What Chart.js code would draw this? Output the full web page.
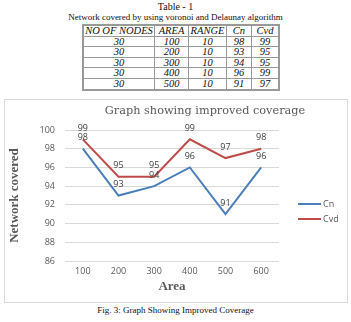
<!DOCTYPE html>
<html>
<head>
<meta charset="utf-8">
<script src="https://cdn.jsdelivr.net/npm/chart.js@4"></script>
<style>
  body { margin: 0; width: 351px; height: 322px; background: #fff; position: relative; font-family: "Liberation Serif", serif; color: #111; overflow: hidden; }
  .cap { position: absolute; left: 0; width: 351px; text-align: center; font-size: 10px; line-height: 11px; }
  table { position: absolute; left: 82px; top: 24px; border-collapse: collapse; border: 2px solid #999; font-style: italic; font-size: 10.5px; }
  td { border: 1px solid #999; text-align: center; height: 9.6px; line-height: 9.6px; padding: 0; }
  #box { position: absolute; left: 4px; top: 99px; width: 342px; height: 202px; border: 1px solid #d9d9d9; }
</style>
</head>
<body>
<div class="cap" style="top:1px">Table - 1</div>
<div class="cap" style="top:12px;font-size:9px">Network covered by using voronoi and Delaunay algorithm</div>
<table id="tbl"></table>
<div id="box"><canvas id="chart" width="342" height="202"></canvas></div>
<div class="cap" style="top:305px;font-size:9px">Fig. 3: Graph Showing Improved Coverage</div>
<script>
const areas = ["100", "200", "300", "400", "500", "600"];
const cn = [98, 93, 94, 96, 91, 96];
const cvd = [99, 95, 95, 99, 97, 98];
const tableHead = ["NO OF NODES", "AREA", "RANGE", "Cn", "Cvd"];
const tableNodes = [30, 30, 30, 30, 30];
const tableArea = [100, 200, 300, 400, 500];
const tableRange = [10, 10, 10, 10, 10];
const tableCn = [98, 93, 94, 96, 91];
const tableCvd = [99, 95, 95, 99, 97];

const colWidths = [70, 33, 37, 24, 26];
const tbl = document.getElementById("tbl");
let html = "<tr>" + tableHead.map((h, i) => '<td style="width:' + colWidths[i] + 'px">' + h + "</td>").join("") + "</tr>";
for (let i = 0; i < tableNodes.length; i++) {
  html += "<tr><td>" + tableNodes[i] + "</td><td>" + tableArea[i] + "</td><td>" + tableRange[i] + "</td><td>" + tableCn[i] + "</td><td>" + tableCvd[i] + "</td></tr>";
}
tbl.innerHTML = html;

const gray = "#595959";
const labelFont = "9px 'Open Sans', sans-serif";

// value labels above each point
const valueLabels = {
  id: "valueLabels",
  afterDatasetsDraw(chart) {
    const ctx = chart.ctx;
    ctx.save();
    ctx.font = labelFont;
    ctx.fillStyle = "#404040";
    ctx.textAlign = "center";
    ctx.textBaseline = "middle";
    chart.data.datasets.forEach((ds, i) => {
      chart.getDatasetMeta(i).data.forEach((pt, j) => {
        ctx.fillText(ds.data[j], pt.x, pt.y - 11);
      });
    });
    ctx.restore();
  }
};

// title sits off-centre and the legend sits low on the right, as in the original
const titleAndLegend = {
  id: "titleAndLegend",
  afterDraw(chart) {
    const ctx = chart.ctx;
    const area = chart.chartArea;
    ctx.save();
    ctx.font = "11.3px 'DejaVu Serif', serif";
    ctx.fillStyle = gray;
    ctx.textAlign = "center";
    ctx.textBaseline = "middle";
    ctx.fillText("Graph showing improved coverage", 200, 11);

    ctx.font = labelFont;
    ctx.textAlign = "left";
    chart.data.datasets.forEach((ds, i) => {
      const y = 104 + i * 15;
      const x = area.right + 19;
      ctx.strokeStyle = ds.borderColor;
      ctx.lineWidth = 2;
      ctx.beginPath();
      ctx.moveTo(x, y);
      ctx.lineTo(x + 23, y);
      ctx.stroke();
      ctx.fillStyle = gray;
      ctx.fillText(ds.label, x + 25, y);
    });
    ctx.restore();
  }
};

new Chart(document.getElementById("chart"), {
  type: "line",
  data: {
    labels: areas,
    datasets: [
      { label: "Cn", data: cn, borderColor: "#4a7ebb", backgroundColor: "#4a7ebb", borderWidth: 2, pointRadius: 0, tension: 0 },
      { label: "Cvd", data: cvd, borderColor: "#be4b48", backgroundColor: "#be4b48", borderWidth: 2, pointRadius: 0, tension: 0 }
    ]
  },
  options: {
    responsive: false,
    animation: false,
    layout: { padding: { top: 30, right: 68, bottom: 8, left: 2 } },
    plugins: {
      title: { display: false },
      legend: { display: false },
      tooltip: { enabled: false }
    },
    scales: {
      x: {
        offset: true,
        afterFit: (s) => { s.height = 33; },
        grid: { display: false, drawTicks: false },
        border: { display: false },
        ticks: { color: gray, font: { family: "Open Sans", size: 9 }, padding: 5 },
        title: { display: true, text: "Area", color: gray, font: { family: "Liberation Serif", size: 13, weight: "bold" }, padding: 0 }
      },
      y: {
        min: 86,
        max: 100,
        afterFit: (s) => { s.width = 58; },
        ticks: { stepSize: 2, color: gray, font: { family: "Open Sans", size: 9 }, padding: 10 },
        grid: { color: "#d9d9d9", drawTicks: false },
        border: { display: false },
        title: { display: true, text: "Network covered", color: gray, font: { family: "Liberation Serif", size: 13, weight: "bold" }, padding: 0 }
      }
    }
  },
  plugins: [valueLabels, titleAndLegend]
});
</script>
</body>
</html>
